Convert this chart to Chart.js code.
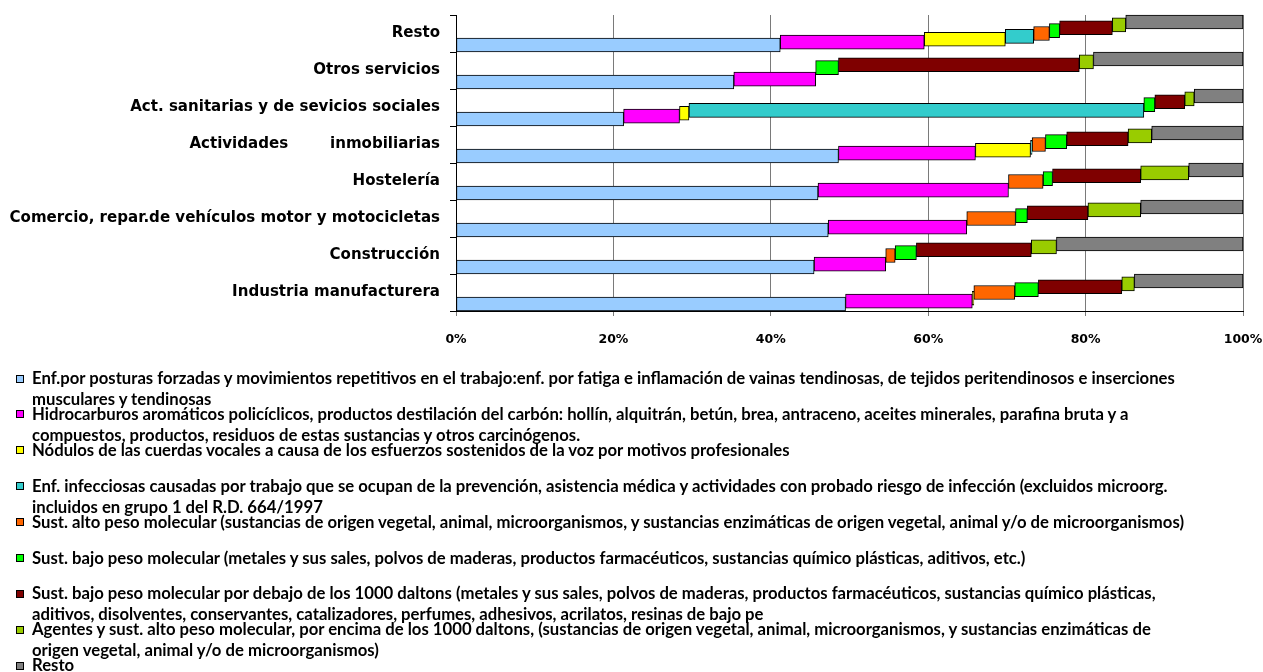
<!DOCTYPE html>
<html><head><meta charset="utf-8">
<script src="https://cdn.jsdelivr.net/npm/chart.js@4.4.1/dist/chart.umd.min.js"></script>
<style>
body{margin:0;background:#fff;}
#wrap{position:absolute;left:0;top:0;width:1263px;height:352px;}
#legend{position:absolute;left:0;top:0;width:1263px;height:672px;}
.box{position:absolute;left:16px;width:6px;height:6px;border:1px solid #000;}
.txt{position:absolute;left:32px;white-space:pre;font-family:Lato,"Open Sans",sans-serif;font-weight:bold;line-height:21px;color:#000;}
</style></head>
<body>
<div id="wrap"><canvas id="c"></canvas></div>
<div id="legend"></div>
<script>
const categories = ["Resto","Otros servicios","Act. sanitarias y de sevicios sociales","Actividades        inmobiliarias","Hostelería","Comercio, repar.de vehículos motor y motocicletas","Construcción","Industria manufacturera"];

const seriesLabels = [
"Enf.por posturas forzadas y movimientos repetitivos en el trabajo:enf. por fatiga e inflamación de vainas tendinosas, de tejidos peritendinosos e inserciones\nmusculares y tendinosas",
"Hidrocarburos aromáticos policíclicos, productos destilación del carbón: hollín, alquitrán, betún, brea, antraceno, aceites minerales, parafina bruta y a\ncompuestos, productos, residuos de estas sustancias y otros carcinógenos.",
"Nódulos de las cuerdas vocales a causa de los esfuerzos sostenidos de la voz por motivos profesionales",
"Enf. infecciosas causadas por trabajo que se ocupan de la prevención, asistencia médica y actividades con probado riesgo de infección (excluidos microorg.\nincluidos en grupo 1 del R.D. 664/1997",
"Sust. alto peso molecular (sustancias de origen vegetal, animal, microorganismos, y sustancias enzimáticas de origen vegetal, animal y/o de microorganismos)",
"Sust. bajo peso molecular (metales y sus sales, polvos de maderas, productos farmacéuticos, sustancias químico plásticas, aditivos, etc.)",
"Sust. bajo peso molecular por debajo de los 1000 daltons (metales y sus sales, polvos de maderas, productos farmacéuticos, sustancias químico plásticas,\naditivos, disolventes, conservantes, catalizadores, perfumes, adhesivos, acrilatos, resinas de bajo pe",
"Agentes y sust. alto peso molecular, por encima de los 1000 daltons, (sustancias de origen vegetal, animal, microorganismos, y sustancias enzimáticas de\norigen vegetal, animal y/o de microorganismos)",
"Resto"
];

const seriesColors = ["#99CCFF","#FF00FF","#FFFF00","#33CCCC","#FF6600","#00FF00","#7F0000","#99CC00","#808080"];

// values in category order (top to bottom)
const posturas      = [41.2, 35.3, 21.3, 48.6, 46.0, 47.3, 45.5, 49.5];
const hidrocarburos = [18.3, 10.4,  7.1, 17.4, 24.2, 17.6,  9.1, 16.1];
const nodulos       = [10.3,  0,    1.2,  7.0,  0,    0,    0,    0.2];
const infecciosas   = [ 3.6,  0,   57.8,  0.2,  0,    0,    0,    0  ];
const altoPeso      = [ 2.0,  0,    0,    1.7,  4.4,  6.2,  1.2,  5.2];
const bajoPeso      = [ 1.3,  2.9,  1.4,  2.7,  1.2,  1.5,  2.7,  3.0];
const bajo1000      = [ 6.7, 30.6,  3.8,  7.8, 11.2,  7.7, 14.6, 10.6];
const alto1000      = [ 1.7,  1.8,  1.2,  3.0,  6.1,  6.7,  3.2,  1.6];
const resto         = [14.9, 19.0,  6.2, 11.6,  6.9, 13.0, 23.7, 13.8];

const seriesValues = [posturas, hidrocarburos, nodulos, infecciosas, altoPeso, bajoPeso, bajo1000, alto1000, resto];

const tickValues = [0,20,40,60,80,100];

// font fitting helpers
const mctx = document.createElement('canvas').getContext('2d');
function fitSize(text, family, target){
  mctx.font = 'bold 100px ' + family;
  return 100 * target / mctx.measureText(text).width;
}
const catFamily = '"DejaVu Sans"';
const catSize = fitSize(categories[5], catFamily, 431);
const legFamily = 'Lato';
const legSize = fitSize(seriesLabels[0].split('\n')[0], legFamily, 1146);

// legend
const legend = document.getElementById('legend');
seriesLabels.forEach((lab,i)=>{
  const cy = 378.5 + i*35.9;
  const b = document.createElement('div');
  b.className='box'; b.style.top=(cy-4)+'px'; b.style.background=seriesColors[i];
  legend.appendChild(b);
  const t = document.createElement('div');
  t.className='txt'; t.style.top=(cy-10.5)+'px'; t.style.fontSize=legSize+'px';
  t.textContent = lab;
  legend.appendChild(t);
});

const stepPlugin = {
  id:'step',
  beforeDatasetDraw(chart,args){
    const n = chart.data.datasets.length;
    const y = chart.scales.y;
    const band = Math.abs(y.getPixelForValue(1)-y.getPixelForValue(0));
    const step = (band - 14)/(n-1);
    chart.ctx.save();
    chart.ctx.translate(0, ((n-1)/2 - args.index)*step);
  },
  afterDatasetDraw(chart){ chart.ctx.restore(); }
};

new Chart(document.getElementById('c'), {
  type:'bar',
  data:{
    labels:categories,
    datasets: seriesValues.map((v,i)=>({
      label: seriesLabels[i], data: v,
      backgroundColor: seriesColors[i], borderColor:'#000', borderWidth:1,
      borderSkipped:false, barThickness:14, clip:false
    }))
  },
  options:{
    indexAxis:'y', responsive:true, maintainAspectRatio:false, animation:false,
    layout:{padding:{left:0,right:20,top:15,bottom:0}},
    plugins:{legend:{display:false}, tooltip:{enabled:false}},
    scales:{
      x:{
        stacked:true, min:0, max:100,
        afterBuildTicks:s=>{ s.ticks = tickValues.map(v=>({value:v})); },
        ticks:{callback:v=>v+'%', font:{family:'"DejaVu Sans"',weight:'bold',size:12.5}, color:'#000', padding:16, maxRotation:0},
        grid:{color:'#7a7a7a', tickLength:5, drawTicks:true},
        border:{display:true,color:'#000'},
        afterFit:s=>{ s.height = 41; s.paddingLeft = 0; s.paddingRight = 0; }
      },
      y:{
        stacked:true,
        ticks:{font:{family:catFamily,weight:'bold',size:catSize}, color:'#000', padding:10, autoSkip:false},
        grid:{offset:true, drawOnChartArea:false, tickLength:6, color:'#000'},
        border:{display:true,color:'#000'},
        afterFit:s=>{ s.width = 456; s.paddingTop = 0; s.paddingBottom = 0; }
      }
    }
  },
  plugins:[stepPlugin]
});
</script>
</body></html>
